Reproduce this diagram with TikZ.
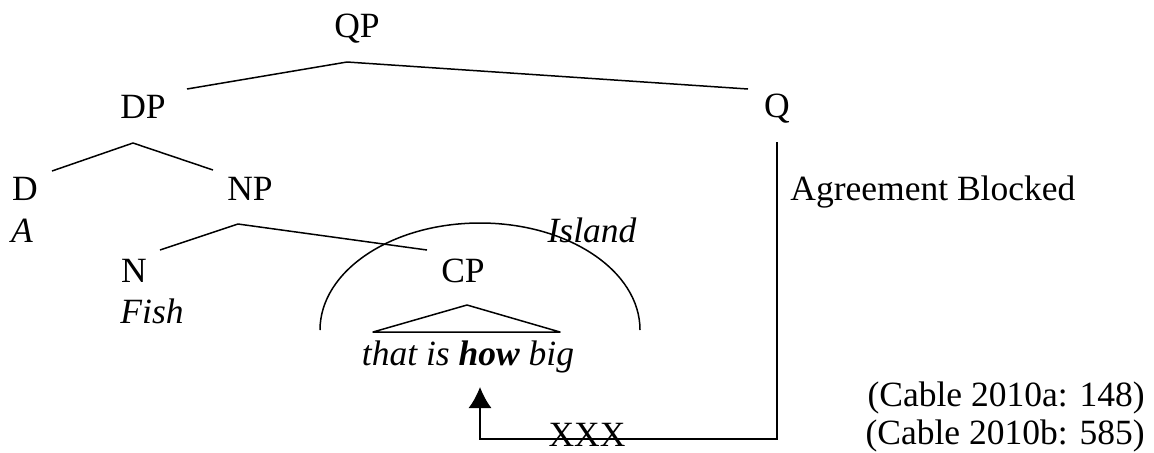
\documentclass[tikz,border=0pt]{standalone}
\usepackage{fontspec}
\setmainfont{Liberation Serif}
\usetikzlibrary{arrows.meta}
\tikzset{
  cat/.style={font=\fontsize{17.75}{21}\selectfont, inner sep=0pt, anchor=base},
  word/.style={cat, font=\fontsize{17.75}{21}\selectfont\itshape},
  cite/.style={cat, anchor=base east},
  branch/.style={draw=black, line width=0.75pt, line join=round},
  arr/.style={-{Latex[length=10.5pt,width=11.5pt]}, draw=black, line width=0.75pt}
}
\begin{document}
\begin{tikzpicture}[x=0.5pt, y=-0.5pt]
  \useasboundingbox (0,0) rectangle (1154,452);
  % category labels
  \node[cat] (qp) at (357,37) {QP};
  \node[cat] (dp) at (143,118) {DP};
  \node[cat] (q) at (777,117) {Q};
  \node[cat] (d) at (25,200) {D};
  \node[cat] (np) at (250,200) {NP};
  \node[cat] (n) at (134,282) {N};
  \node[cat] (cp) at (463,282) {CP};
  \node[word] (a) at (22,242) {A};
  \node[word] (fish) at (152,323) {Fish};
  \node[word] (island) at (592,242) {Island};
  \node[word] (phrase) at (468,365) {that is \textbf{how} big};
  \node[cat, anchor=base west] (blocked) at (790,200) {Agreement Blocked};
  \node[cite] (cite1) at (1145,406) {(Cable 2010a: 148)};
  \node[cite] (cite2) at (1145,444) {(Cable 2010b: 585)};
  % branch points
  \coordinate (qptop) at (347,62);
  \coordinate (qpl) at (187,89);
  \coordinate (qpr) at (748,89);
  \coordinate (dptop) at (133,143);
  \coordinate (dpl) at (52,171);
  \coordinate (dpr) at (213,170);
  \coordinate (nptop) at (238,224);
  \coordinate (npl) at (160,250);
  \coordinate (npr) at (427,250);
  \coordinate (cptop) at (467,305);
  \coordinate (cpl) at (373,332);
  \coordinate (cpr) at (560,332);
  \draw[branch] (qpl) -- (qptop) -- (qpr);
  \draw[branch] (dpl) -- (dptop) -- (dpr);
  \draw[branch] (npl) -- (nptop) -- (npr);
  \draw[branch] (cpl) -- (cptop) -- (cpr) -- cycle;
  % island boundary
  \draw[branch] (320,330) arc[start angle=180, end angle=360, x radius=160, y radius=107];
  % blocked agreement path
  \coordinate (qfoot) at (777,142);
  \coordinate (turn) at (480,439);
  \coordinate (tip) at (480,387);
  \draw[arr] (qfoot) |- (turn) -- (tip);
  \node[cat] (xxx) at (587,446) {XXX};
\end{tikzpicture}
\end{document}
